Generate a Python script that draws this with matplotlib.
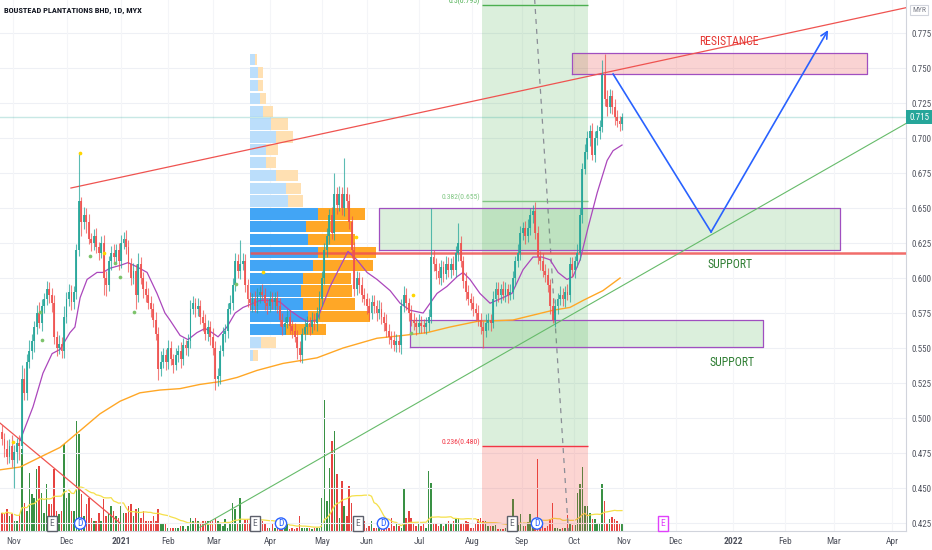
import numpy as np
import pandas as pd
import matplotlib
matplotlib.use("Agg")
import matplotlib.pyplot as plt
from matplotlib.transforms import blended_transform_factory

# ---------------- data (prices in thousandths of MYR) ----------------
title = "BOUSTEAD PLANTATIONS BHD, 1D, MYX"

opens = [
490,485,478,472,480,470,476,482,480,528,
518,540,548,555,565,575,568,580,585,592,
588,582,558,550,553,548,572,585,590,583,
590,620,655,640,645,640,628,625,630,622,
618,625,600,595,612,618,615,620,612,625,
628,622,610,600,605,588,610,600,592,588,
582,578,570,560,535,540,545,540,550,542,
538,545,548,542,552,550,555,578,582,578,
580,572,568,560,565,558,550,528,530,548,
560,562,578,582,595,612,605,610,612,595,
585,582,585,580,588,590,588,582,580,585,
583,586,580,570,565,568,572,566,562,558,
550,545,560,565,568,565,570,568,575,585,
600,620,630,645,632,660,652,660,650,660,
655,640,620,592,600,595,588,585,580,575,
583,580,575,578,572,568,562,558,556,552,
555,552,580,588,582,575,570,568,565,568,
566,565,568,572,615,610,605,600,608,603,
610,606,610,606,618,625,612,598,590,585,
582,578,575,570,565,562,568,570,568,585,
592,588,592,588,592,588,590,600,612,618,
632,636,630,636,645,648,632,615,612,605,
602,595,580,570,580,585,588,585,590,588,
610,606,612,618,645,678,690,700,705,688,
700,705,708,745,728,722,730,722,715,712,
710]
closes = [
485,478,472,480,470,476,482,480,528,518,
540,548,555,565,575,568,580,585,592,588,
582,558,550,553,548,572,585,590,583,590,
620,655,640,645,640,628,625,630,622,618,
625,600,595,612,618,615,620,612,625,628,
622,610,600,605,588,610,600,592,588,582,
578,570,560,535,540,545,540,550,542,538,
545,548,542,552,550,555,578,582,578,580,
572,568,560,565,558,550,528,530,548,560,
562,578,582,595,612,605,610,612,595,585,
582,585,580,588,590,588,582,580,585,583,
586,580,570,565,568,572,566,562,558,550,
545,560,565,568,565,570,568,575,585,600,
620,630,645,632,660,652,660,650,660,655,
640,620,592,600,595,588,585,580,575,583,
580,575,578,572,568,562,558,556,552,555,
552,580,588,582,575,570,568,565,568,566,
565,568,572,615,610,605,600,608,603,610,
606,610,606,618,625,612,598,590,585,582,
578,575,570,565,562,568,570,568,585,592,
588,592,588,592,588,590,600,612,618,632,
636,630,636,645,648,632,615,612,605,602,
595,580,570,580,585,588,585,590,588,610,
606,612,618,645,678,690,700,705,688,700,
705,708,745,728,722,730,722,715,712,710,
715]
upper_wick = [
5,4,6,5,8,5,4,6,10,8, 6,8,5,4,6,8,5,4,6,5, 5,6,4,6,5,8,5,6,5,4,
4,34,3,6,5,6,4,5,6,4, 5,6,5,4,5,6,4,5,6,5, 6,5,4,6,5,8,5,4,6,5,
5,4,6,5,8,5,4,6,5,4, 5,4,6,5,4,5,6,5,4,6, 4,5,6,5,4,6,5,6,4,5,
5,4,6,5,6,5,17,6,5,4, 5,4,6,5,4,6,5,4,6,5, 4,5,6,5,4,6,5,4,6,5,
5,4,6,5,4,6,5,4,6,5, 5,6,4,6,15,5,6,5,26,5, 5,4,6,5,4,6,5,4,6,5,
5,4,6,5,4,6,5,4,6,5, 4,5,6,5,4,6,5,4,6,5, 5,4,6,35,5,4,6,5,4,6,
5,4,6,5,14,5,4,6,5,4, 5,4,6,5,4,6,5,4,6,5, 5,4,6,5,4,6,5,4,6,5,
4,5,6,5,4,6,5,4,6,5, 5,4,6,5,4,6,5,4,6,5, 5,4,6,5,4,6,5,4,6,5,
4,5,11,15,6,5,4,6,5,4, 3]
lower_wick = [
4,6,5,4,5,20,8,10,6,5, 5,4,6,8,5,4,6,5,4,6, 6,5,6,4,5,5,4,5,6,5,
5,4,10,5,8,4,6,5,4,5, 4,12,8,4,6,5,4,6,5,4, 5,6,5,4,10,5,4,6,5,4,
6,5,4,8,5,4,6,5,4,6, 4,5,6,4,5,6,5,4,6,5, 5,6,4,5,6,5,8,5,6,4,
6,5,4,5,4,5,6,4,5,6, 5,6,4,5,6,4,5,6,4,5, 6,5,4,6,5,4,6,5,4,8,
5,6,4,5,6,4,5,6,4,5, 4,5,6,4,5,6,4,5,6,5, 5,6,5,4,6,5,4,6,5,4,
5,6,4,5,6,4,5,6,4,5, 5,6,4,5,6,4,5,6,4,5, 4,5,6,4,5,6,4,5,6,4,
5,6,4,5,6,4,5,6,4,5, 5,6,4,5,12,4,5,6,4,5, 5,6,4,5,6,4,5,6,4,5,
5,6,4,5,6,4,5,6,4,5, 5,6,2,5,6,4,5,6,4,5, 5,6,4,5,6,4,5,6,4,5,
5,6,4,5,6,4,5,6,4,5, 4]
volume = [
18,17,22,15,17,10,10,17,82,28, 20,58,37,33,62,65,38,18,47,27,
27,62,20,17,20,87,33,38,20,20, 110,97,37,15,27,33,13,10,10,18,
10,32,15,17,25,20,15,13,25,18, 18,25,27,15,22,23,13,20,10,10,
10,15,10,22,7,7,7,3,3,3, 3,3,5,5,2,5,13,10,13,10,
7,10,10,10,10,10,13,10,7,5, 12,3,7,28,22,7,33,7,12,12,
7,10,3,7,8,10,7,3,3,7, 3,3,3,3,3,7,2,3,2,3,
15,3,3,3,3,2,3,3,3,33, 131,30,63,90,100,57,13,50,25,15,
45,28,7,7,3,3,10,3,5,10, 3,3,3,3,7,3,3,13,5,7,
5,3,43,13,20,13,7,5,7,5, 7,3,60,48,7,7,5,7,5,7,
10,7,10,12,13,8,7,10,9,3, 3,8,12,13,10,10,5,5,5,6,
2,2,2,3,10,3,32,5,6,17, 5,5,9,17,5,5,72,5,5,3,
5,12,28,3,3,2,3,3,16,7, 6,6,38,47,64,25,25,18,12,12,
7,7,47,30,8,12,14,12,10,7, 7]

# moving averages (bar index, price in thousandths)
ma_fast_bars = [7.3, 12.5, 16.5, 20.2, 23.4, 27.4, 29.4, 31.5, 34.3, 38.3, 40.7, 43.5, 47.6,
                50.8, 54.4, 58.5, 62.5, 65.7, 67.7, 71.8, 75, 78.6, 81.9, 84.7, 87.1, 90.7,
                94, 97.2, 100, 104, 108, 112, 116, 120, 123, 127, 132.3, 136.3, 139.5, 143.1,
                147.2, 151.2, 156.5, 160.5, 164.5, 169.8, 172.6, 175.4, 179.4, 183.5, 185.9,
                188.7, 192.7, 196.8, 202, 205.6, 210.1, 214.1, 217.7, 221, 224.2, 227.8,
                230.2, 233.1, 236.3, 240, 244, 246.4, 250]
ma_fast_vals = [484, 508, 532, 546, 549, 561, 565, 586, 599, 604, 604, 607, 609,
                611, 608, 604, 589, 575, 570, 559, 556, 561, 564, 561, 558, 565,
                575, 579, 581, 584, 584, 583, 577, 572, 569, 570, 594, 608, 619, 613,
                604, 599, 591, 582, 577, 575, 582, 589, 594, 601, 604,
                599, 589, 582, 586, 589, 606, 615, 615, 613, 604, 599,
                601, 613, 636, 661, 684, 691, 695]
ma_slow_bars = [-0.8, 7.3, 15.3, 23.4, 31.5, 39.5, 47.6, 55.6, 63.7, 71.8, 79.8, 87.9, 94.8,
                102.8, 113.3, 120.2, 127, 137.5, 151.2, 161.7, 171.4, 180.6, 191.5, 206,
                222.2, 229, 234.3, 242.3, 249.2]
ma_slow_vals = [463, 465, 472, 479, 491, 503, 512, 518, 520, 521, 524, 526, 529,
                534, 539, 541, 543, 550, 557, 559, 561, 565, 569, 570,
                577, 579, 584, 591, 600]

# pivot dots
pivot_high_bars = [4.3, 31.5, 41.1, 105.2, 142.7, 165.7]
pivot_high_vals = [483, 689, 618, 604, 629, 588]
pivot_low_bars = [15.3, 16.1, 35.5, 45.6, 47.6, 53.2, 94.4, 164.9]
pivot_low_vals = [576, 556, 616, 611, 601, 576, 596, 561]

# visible-range volume profile (rows from top), up / down volume
vp_top, vp_bottom = 0.7605, 0.5402
vp_start_bar = 100
vp_up = [5, 8, 8, 10, 13, 21, 26, 16, 16, 26, 36, 38, 68, 56, 58, 68, 63, 53, 51, 53, 58, 36, 11, 3]
vp_down = [2, 5, 5, 6, 10, 17, 17, 12, 10, 22, 15, 15, 47, 47, 47, 58, 60, 48, 51, 52, 62, 40, 15, 5]
vp_value_area = (12, 21)

# drawings
res_box = dict(x0=229.7, x1=348.8, lo=0.7457, hi=0.7607)
sup_box1 = dict(x0=152.0, x1=338.0, lo=0.620, hi=0.650)
sup_box2 = dict(x0=164.5, x1=306.9, lo=0.5505, hi=0.570)
hline_price, hline_start = 0.618, 100
upper_trend = ([27.8, 364.5], [0.6643, 0.7931])
rising_trend = ([79.8, 364.5], [0.4220, 0.7104])
falling_trend = ([-0.8, 47.6], [0.4964, 0.4250])
proj_bars = [246.4, 285.9, 333.1]
proj_vals = [0.7457, 0.6329, 0.7771]
fib_bars = [193.5, 236.3]
fib_anchor_prices = [1.393, 0.198]
fib_prices = [0.480, 0.655, 0.795]
fib_labels = ["0.236(0.480)", "0.382(0.655)", "0.5(0.795)"]
fib_colors = ["#f23645", "#81c784", "#4caf50"]
last_price = 0.715

earn_bars = [20.2, 102, 143.5, 205.6]
div_bars = [31.5, 112.5, 153.6, 215.7]
future_earn_bars = [266.5]

month_bars = [4.6, 26.1, 48.1, 67.1, 85.2, 108.1, 129.2, 147.2, 168.1, 189.4,
              209.6, 230.6, 250.5, 271.7, 294.9, 315.7, 335.5, 358.9]
month_labels = ["Nov", "Dec", "2021", "Feb", "Mar", "Apr", "May", "Jun", "Jul", "Aug",
                "Sep", "Oct", "Nov", "Dec", "2022", "Feb", "Mar", "Apr"]
price_ticks = [0.425, 0.450, 0.475, 0.500, 0.525, 0.550, 0.575, 0.600, 0.625,
               0.650, 0.675, 0.700, 0.725, 0.750, 0.775]

# ---------------- styling ----------------
FONT = ["Roboto Condensed", "Liberation Sans Narrow", "Liberation Sans", "DejaVu Sans"]
plt.rcParams["font.family"] = FONT
UP, DOWN = "#26a69a", "#ef5350"
VUP, VDOWN = "#2e8b3a", "#e53935"
GRID = "#eef0f5"
AXC = "#50535e"

o = np.array(opens) / 1000
c = np.array(closes) / 1000
h = np.maximum(o, c) + np.array(upper_wick) / 1000
l = np.minimum(o, c) - np.array(lower_wick) / 1000
v = np.array(volume, dtype=float)
x = np.arange(len(c))
up = c >= o

W, H = 932, 550
fig = plt.figure(figsize=(W / 100, H / 100), dpi=100)
rect = [0, 19 / H, 906 / W, 531 / H]
axv = fig.add_axes(rect)
ax = fig.add_axes(rect, sharex=axv)
ax.patch.set_visible(False)

xlim = (-0.81, 364.5)
ylim = (0.4193, 0.7986)
ax.set_xlim(*xlim)
ax.set_ylim(*ylim)

# volume pane
axv.bar(x, v, width=0.62, color=np.where(up, VUP, VDOWN), linewidth=0, alpha=0.95)
vma = pd.Series(v).rolling(20, min_periods=1).mean()
axv.plot(x, vma, color="#f5e04a", lw=0.9)
axv.set_ylim(0, v.max() * 531 / 131)
axv.axis("off")

# grid
for p in price_ticks:
    ax.axhline(p, color=GRID, lw=0.8, zorder=0)
for mb in month_bars:
    ax.axvline(mb, color="#f4f5f8", lw=0.8, zorder=0)

# fib band
fx0, fx1 = fib_bars
ax.fill_between([fx0, fx1], fib_prices[0], ylim[1], color="#4caf50", alpha=0.2, lw=0, zorder=1)
ax.fill_between([fx0, fx1], fib_anchor_prices[1], fib_prices[0], color="#f44336", alpha=0.22, lw=0, zorder=1)
for fp, fl, fc in zip(fib_prices, fib_labels, fib_colors):
    ax.hlines(fp, fx0, fx1, colors=fc, lw=1, zorder=2)
    ax.text(fx0 - 0.8, fp + 0.0025, fl, ha="right", va="center", fontsize=5.5, color=fc, zorder=2)
ax.plot(fib_bars, fib_anchor_prices, color="#8a8d96", lw=0.9, ls=(0, (4, 4)), zorder=2)

# volume profile
edges = np.linspace(vp_top, vp_bottom, len(vp_up) + 1)
centers = (edges[:-1] + edges[1:]) / 2
rh = abs(edges[1] - edges[0]) * 0.88
vp_up_a = np.array(vp_up, float)
vp_tot = vp_up_a + np.array(vp_down, float)
scale = (126 / 2.48) / vp_tot.max()
for i, (cy, uu, tt) in enumerate(zip(centers, vp_up_a, vp_tot)):
    in_va = vp_value_area[0] <= i <= vp_value_area[1]
    bc = "#42a5f5" if in_va else "#bbdefb"
    oc = "#ffa726" if in_va else "#ffe0b2"
    ax.barh(cy, uu * scale, left=vp_start_bar, height=rh, color=bc, lw=0, zorder=2)
    ax.barh(cy, (tt - uu) * scale, left=vp_start_bar + uu * scale, height=rh, color=oc, lw=0, zorder=2)

# zones
def box(b, fc, alpha):
    ax.fill_between([b["x0"], b["x1"]], b["lo"], b["hi"], color=fc, alpha=alpha, lw=0, zorder=2)
    ax.plot([b["x0"], b["x1"], b["x1"], b["x0"], b["x0"]],
            [b["lo"], b["lo"], b["hi"], b["hi"], b["lo"]], color="#a04fc0", lw=0.9, zorder=3)

box(sup_box1, "#4caf50", 0.2)
box(sup_box2, "#4caf50", 0.2)
box(res_box, "#ef5350", 0.25)

# lines
ax.axhline(last_price, color="#26a69a", alpha=0.25, lw=1, zorder=2)
ax.hlines(hline_price, hline_start, xlim[1], colors="#ef5350", lw=1.8, alpha=0.85, zorder=4)
ax.plot(*upper_trend, color="#ef5350", lw=0.9, zorder=4)
ax.plot(*rising_trend, color="#66bb6a", lw=0.8, zorder=4)
ax.plot(*falling_trend, color="#ef5350", lw=0.9, zorder=4)

# moving averages
ax.plot(ma_slow_bars, np.array(ma_slow_vals) / 1000, color="#ffa726", lw=1.0, zorder=4)
ax.plot(ma_fast_bars, np.array(ma_fast_vals) / 1000, color="#ab47bc", lw=0.9, zorder=4)

# candles
cols = np.where(up, UP, DOWN)
ax.vlines(x, l, h, colors=cols, lw=0.8, alpha=0.75, zorder=5)
body = np.maximum(np.abs(c - o), 0.0012)
ax.bar(x, body, bottom=np.minimum(o, c), width=0.75, color=cols, lw=0, alpha=0.9, zorder=5)

# pivot dots
ax.scatter(pivot_high_bars, np.array(pivot_high_vals) / 1000, s=7, color="#ffd600", zorder=6, lw=0)
ax.scatter(pivot_low_bars, np.array(pivot_low_vals) / 1000, s=7, color="#7cc36b", zorder=6, lw=0)

# projection path
ax.plot(proj_bars[:2], proj_vals[:2], color="#2962ff", lw=1.2, zorder=6)
ax.annotate("", xy=(proj_bars[2], proj_vals[2]), xytext=(proj_bars[1], proj_vals[1]),
            arrowprops=dict(arrowstyle="->", color="#2962ff", lw=1.2, mutation_scale=12,
                            shrinkA=0, shrinkB=0), zorder=6)

# annotations
ax.text(293.2, 0.7693, "RESISTANCE", color="#e53935", fontsize=8.5, ha="center", va="center", zorder=6)
ax.text(293.5, 0.6100, "SUPPORT", color="#2e7d32", fontsize=8.5, ha="center", va="center", zorder=6)
ax.text(294.4, 0.5400, "SUPPORT", color="#2e7d32", fontsize=8.5, ha="center", va="center", zorder=6)

# event markers
bt = blended_transform_factory(ax.transData, ax.transAxes)
for eb in earn_bars:
    ax.text(eb, 0.014, "E", transform=bt, ha="center", va="center", fontsize=6.8, color="#6a6d78",
            bbox=dict(boxstyle="square,pad=0.3", fc="white", ec="#5d606b", lw=1.0), zorder=7)
for db in div_bars:
    ax.text(db, 0.014, "D", transform=bt, ha="center", va="center", fontsize=6.8, color="#2962ff",
            bbox=dict(boxstyle="circle,pad=0.12", fc="white", ec="#2962ff", lw=1.0), zorder=7)
for fb in future_earn_bars:
    ax.text(fb, 0.014, "E", transform=bt, ha="center", va="center", fontsize=6.8, color="#e040fb",
            bbox=dict(boxstyle="square,pad=0.3", fc="white", ec="#e040fb", lw=1.0), zorder=7)

# axes
ax.yaxis.tick_right()
ax.set_yticks(price_ticks)
ax.set_yticklabels([f"{p:.3f}" for p in price_ticks])
ax.tick_params(axis="y", length=0, pad=4, labelsize=6.5, labelcolor=AXC)
ax.set_xticks(month_bars)
ax.set_xticklabels(month_labels)
ax.tick_params(axis="x", length=0, pad=4, labelsize=6.8, labelcolor=AXC)
for t in ax.get_xticklabels():
    if t.get_text().isdigit():
        t.set_fontweight("bold")
for s in ["top", "left"]:
    ax.spines[s].set_visible(False)
for s in ["right", "bottom"]:
    ax.spines[s].set_color("#d1d4dc")
    ax.spines[s].set_linewidth(0.8)

fig.text(919 / W, 1 - 117 / H, f"{last_price:.3f}", ha="center", va="center",
         fontsize=6.5, color="white", zorder=8,
         bbox=dict(boxstyle="square,pad=0.3", fc="#26a69a", ec="none"))

fig.text(919 / W, 1 - 10 / H, "MYR", ha="center", va="center", fontsize=5.5, color="#787b86",
         bbox=dict(boxstyle="square,pad=0.3", fc="white", ec="#d1d4dc", lw=0.8))
fig.text(4 / W, 1 - 10 / H, title, ha="left", va="center", fontsize=6, color="#131722",
         fontweight="bold")

fig.savefig("out.png", dpi=100)
